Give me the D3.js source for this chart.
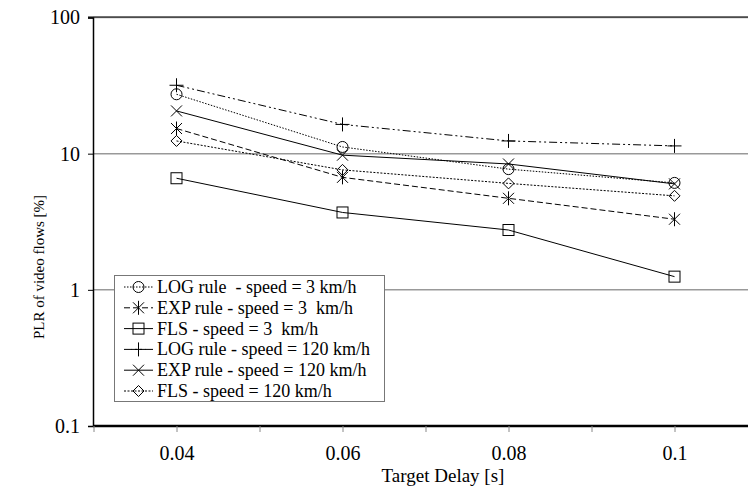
<!DOCTYPE html>
<html>
<head>
<meta charset="utf-8">
<script src="https://cdn.jsdelivr.net/npm/d3@7"></script>
<style>
  body { margin: 0; background: #fff; }
  svg, svg text { font-family: "Liberation Serif", "Times New Roman", Times, "DejaVu Serif", serif !important; }
</style>
</head>
<body>
<div class="canvas"></div>
<script>
const delays = [0.04, 0.06, 0.08, 0.1];
const seriesNames = [
  "LOG rule  - speed = 3 km/h",
  "EXP rule - speed = 3  km/h",
  "FLS - speed = 3  km/h",
  "LOG rule - speed = 120 km/h",
  "EXP rule - speed = 120 km/h",
  "FLS - speed = 120 km/h",
];
const logSlow = [27.3, 11.2, 7.7, 6.1];
const expSlow = [15.3, 6.7, 4.7, 3.3];
const flsSlow = [6.6, 3.7, 2.75, 1.25];
const logFast = [31.8, 16.4, 12.4, 11.4];
const expFast = [20.6, 9.75, 8.4, 6.0];
const flsFast = [12.4, 7.6, 6.05, 4.9];
const yTicks = [0.1, 1, 10, 100];
const xLabels = [0.04, 0.06, 0.08, 0.1];

const values = [logSlow, expSlow, flsSlow, logFast, expFast, flsFast];
const markers = ["circle", "asterisk", "square", "plus", "cross", "diamond"];
const dashes = ["1.5,1.5", "6,3", null, "8,3,2,3,2,3", null, "2,1.5"];

const width = 748;
const height = 491;

const x = d3.scaleLinear().domain([0.03, 0.11]).range([93.5, 757.5]);
const y = d3.scaleLog().domain([0.1, 100]).range([426, 17.5]);

const svg = d3
  .select(".canvas")
  .append("svg")
  .attr("width", width)
  .attr("height", height);

// grid lines
svg
  .selectAll(".grid")
  .data(yTicks.slice(1))
  .enter()
  .append("line")
  .attr("class", "grid")
  .attr("x1", 93)
  .attr("x2", width)
  .attr("y1", (d) => y(d))
  .attr("y2", (d) => y(d))
  .attr("stroke", "#999")
  .attr("stroke-width", 1.5);

// top border
svg
  .append("line")
  .attr("x1", 88)
  .attr("x2", width)
  .attr("y1", y(100) - 0.5)
  .attr("y2", y(100) - 0.5)
  .attr("stroke", "#000")
  .attr("stroke-width", 1.2);

// y axis
const yAxis = d3
  .axisLeft(y)
  .tickValues(yTicks)
  .tickFormat((d) => d3.format("~g")(d))
  .tickSize(5)
  .tickPadding(8);

const yg = svg.append("g").attr("transform", "translate(93,0)").call(yAxis);
yg.attr("font-family", null);
yg.select(".domain").attr("stroke-width", 1.5);
yg.selectAll("text").attr("font-size", 20).attr("fill", "#000");

// x axis
const xAxis = d3
  .axisBottom(x)
  .ticks(8)
  .tickFormat((d) => (xLabels.some((v) => Math.abs(v - d) < 1e-9) ? d3.format("~g")(d) : ""))
  .tickSize(6)
  .tickPadding(14);

const xg = svg.append("g").attr("transform", "translate(0,426)").call(xAxis);
xg.attr("font-family", null);
xg.select(".domain").attr("stroke-width", 2.5).attr("d", `M93,0H${width}`);
xg.selectAll(".tick line").attr("stroke", "#888");
xg.selectAll("text").attr("font-size", 20).attr("fill", "#000");

// axis titles
svg
  .append("text")
  .attr("x", 443)
  .attr("y", 482)
  .attr("text-anchor", "middle")
  .attr("font-size", 19)
  .text("Target Delay [s]");

svg
  .append("text")
  .attr("transform", "translate(44,267) rotate(-90)")
  .attr("text-anchor", "middle")
  .attr("font-size", 15)
  .text("PLR of video flows [%]");

function drawMarker(g, type, cx, cy) {
  const s = 5.5;
  if (type === "circle") {
    g.append("circle").attr("cx", cx).attr("cy", cy).attr("r", s).attr("fill", "none");
  } else if (type === "square") {
    g.append("rect").attr("x", cx - s).attr("y", cy - s).attr("width", 2 * s).attr("height", 2 * s).attr("fill", "none");
  } else if (type === "diamond") {
    g.append("path").attr("d", `M${cx},${cy - s}L${cx + s},${cy}L${cx},${cy + s}L${cx - s},${cy}Z`).attr("fill", "none");
  } else if (type === "plus") {
    g.append("path").attr("d", `M${cx - 7},${cy}H${cx + 7}M${cx},${cy - 7}V${cy + 7}`);
  } else if (type === "cross") {
    g.append("path").attr("d", `M${cx - s},${cy - s}L${cx + s},${cy + s}M${cx + s},${cy - s}L${cx - s},${cy + s}`);
  } else if (type === "asterisk") {
    g.append("path").attr("d", `M${cx - s},${cy - s}L${cx + s},${cy + s}M${cx + s},${cy - s}L${cx - s},${cy + s}M${cx},${cy - 7}V${cy + 7}`);
  }
}

const line = d3
  .line()
  .x((d) => x(d[0]))
  .y((d) => y(d[1]));

const plot = svg.append("g").attr("class", "chart");

values.forEach((vals, i) => {
  const pts = delays.map((d, j) => [d, vals[j]]);
  const g = plot.append("g").attr("stroke", "#000").attr("stroke-width", 1).attr("fill", "none");
  g.append("path")
    .attr("d", line(pts))
    .attr("stroke-dasharray", dashes[i]);
  pts.forEach((p) => drawMarker(g, markers[i], x(p[0]), y(p[1])));
});

// legend
const legend = svg.append("g").attr("id", "legend");

legend
  .append("rect")
  .attr("x", 114.5)
  .attr("y", 275.5)
  .attr("width", 270)
  .attr("height", 126)
  .attr("fill", "#fff")
  .attr("stroke", "#777");

seriesNames.forEach((name, i) => {
  const cy = 287 + i * 20.8;
  const g = legend.append("g").attr("stroke", "#000").attr("stroke-width", 1).attr("fill", "none");
  g.append("line")
    .attr("x1", 124)
    .attr("x2", 153)
    .attr("y1", cy)
    .attr("y2", cy)
    .attr("stroke-dasharray", dashes[i]);
  drawMarker(g, markers[i], 138.5, cy);
  legend
    .append("text")
    .attr("x", 157)
    .attr("y", cy + 6)
    .attr("font-size", 18)
    .attr("fill", "#000")
    .style("white-space", "pre")
    .text(name);
});
</script>
</body>
</html>
